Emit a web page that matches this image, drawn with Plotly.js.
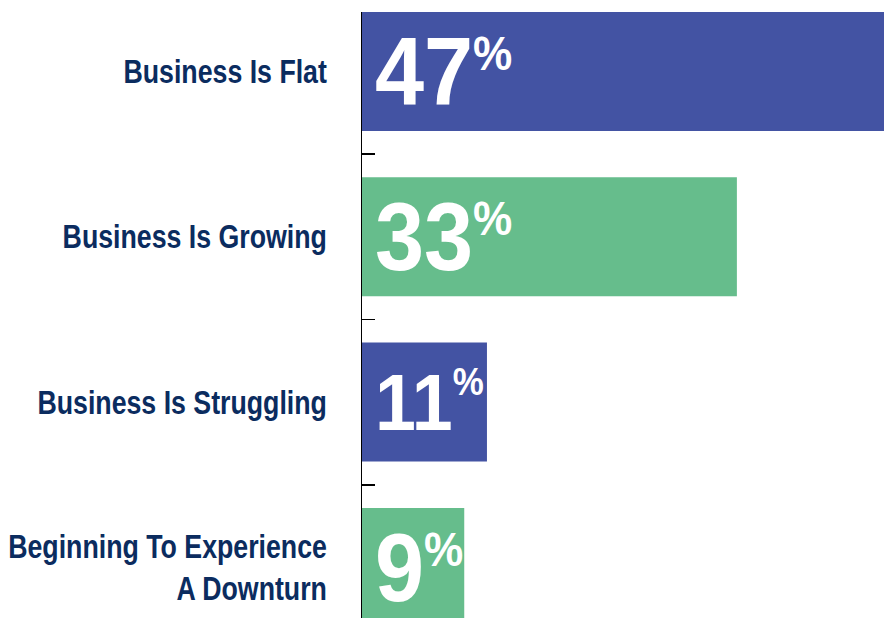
<!DOCTYPE html>
<html>
<head>
<meta charset="utf-8">
<script src="https://cdn.plot.ly/plotly-3.0.1.min.js"></script>
<style>
html,body{margin:0;padding:0;background:#fff;}
#chart{width:884px;height:618px;}
#chart g.ytick{transform-box:fill-box;transform-origin:right center;transform:scaleX(0.81);}
#chart g.annotation{transform-box:fill-box;transform-origin:left center;transform:scaleX(0.92);}
</style>
</head>
<body>
<div id="chart"></div>
<script>
var categories = ["Business Is Flat", "Business Is Growing", "Business Is Struggling", "Beginning To Experience<br>A Downturn"];
var values = [47, 33, 11, 9];
var barColors = ["#4353A3", "#66BD8C", "#4353A3", "#66BD8C"];
var numberSizes = [96, 96, 80, 96];
var percentSizes = [48, 48, 38, 48];

var FONT = "'Liberation Sans', Arial, sans-serif";

var trace = {
  type: "bar",
  orientation: "h",
  x: values,
  y: categories,
  marker: {color: barColors, line: {width: 0}},
  width: 0.72,
  hoverinfo: "skip"
};

var annotations = values.map(function (v, i) {
  return {
    x: 0, y: categories[i], xref: "x", yref: "y",
    xanchor: "left", yanchor: "middle", xshift: 11, yshift: 0,
    showarrow: false,
    text: "<b><span style='font-size:" + numberSizes[i] + "px'>" + v + "</span><sup><span style='font-size:" + percentSizes[i] + "px'>%</span></sup></b>",
    font: {family: FONT, size: 83, color: "#ffffff"}
  };
});

var layout = {
  width: 884, height: 618,
  margin: {l: 362, r: 0, t: 12, b: 0, pad: 0},
  paper_bgcolor: "#ffffff", plot_bgcolor: "#ffffff",
  showlegend: false,
  xaxis: {range: [0, 45.95], visible: false, fixedrange: true},
  yaxis: {
    type: "category",
    categoryorder: "array", categoryarray: categories,
    range: [3.306, -0.36],
    layer: "below traces",
    showline: true, linecolor: "#000000", linewidth: 1.5,
    ticks: "inside", tickson: "boundaries", ticklen: 13, tickwidth: 1.5, tickcolor: "#000000",
    showgrid: false, zeroline: false,
    ticklabelstandoff: 27,
    tickfont: {family: FONT, size: 33, color: "#0B2C5F", weight: "bold"}
  },
  annotations: annotations
};

Plotly.newPlot("chart", [trace], layout, {displayModeBar: false, staticPlot: true});
</script>
</body>
</html>
